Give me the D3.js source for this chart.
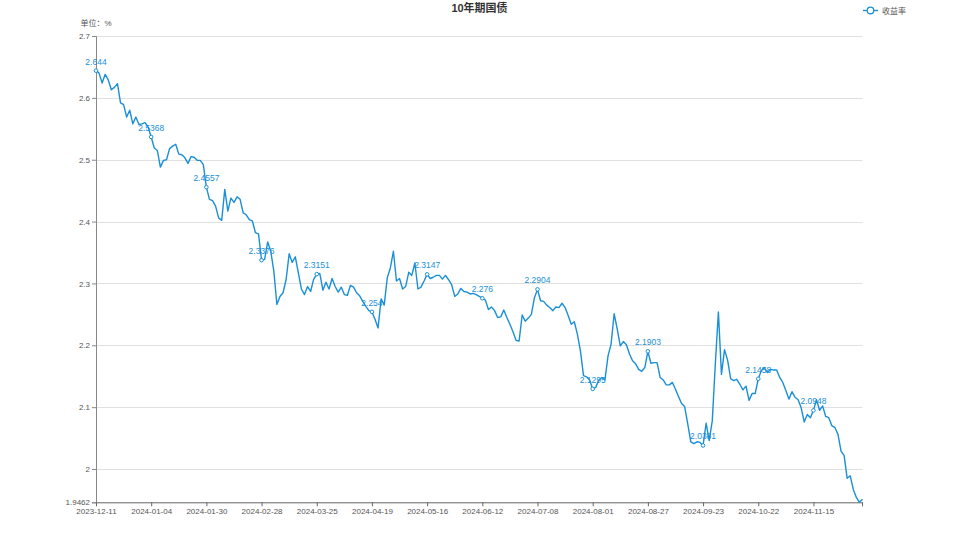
<!DOCTYPE html>
<html><head><meta charset="utf-8">
<script src="https://cdn.jsdelivr.net/npm/d3@7"></script>
<style>
html,body{margin:0;padding:0;background:#fff;}
svg{display:block;font-family:"Liberation Sans","Noto Sans CJK SC",sans-serif;}
</style></head>
<body><svg id="c" width="959" height="539"></svg>
<script>
const title = "10年期国债";
const unitLabel = "单位：%";
const seriesName = "收益率";
const dates = [
"2023-12-11","2023-12-12","2023-12-13","2023-12-14","2023-12-15","2023-12-18","2023-12-19","2023-12-20","2023-12-21","2023-12-22",
"2023-12-25","2023-12-26","2023-12-27","2023-12-28","2023-12-29",
"2024-01-01","2024-01-02","2024-01-03","2024-01-04","2024-01-05","2024-01-08","2024-01-09","2024-01-10","2024-01-11","2024-01-12",
"2024-01-15","2024-01-16","2024-01-17","2024-01-18","2024-01-19","2024-01-22","2024-01-23","2024-01-24","2024-01-25","2024-01-26",
"2024-01-29","2024-01-30","2024-01-31",
"2024-02-01","2024-02-02","2024-02-04","2024-02-05","2024-02-06","2024-02-07","2024-02-08","2024-02-09","2024-02-18","2024-02-19",
"2024-02-20","2024-02-21","2024-02-22","2024-02-23","2024-02-26","2024-02-27","2024-02-28","2024-02-29",
"2024-03-01","2024-03-04","2024-03-05","2024-03-06","2024-03-07","2024-03-08","2024-03-11","2024-03-12","2024-03-13","2024-03-14",
"2024-03-15","2024-03-18","2024-03-19","2024-03-20","2024-03-21","2024-03-22","2024-03-25","2024-03-26","2024-03-27","2024-03-28","2024-03-29",
"2024-04-01","2024-04-02","2024-04-03","2024-04-07","2024-04-08","2024-04-09","2024-04-10","2024-04-11","2024-04-12","2024-04-15",
"2024-04-16","2024-04-17","2024-04-18","2024-04-19","2024-04-22","2024-04-23","2024-04-24","2024-04-25","2024-04-26","2024-04-28",
"2024-04-29","2024-04-30",
"2024-05-06","2024-05-07","2024-05-08","2024-05-09","2024-05-10","2024-05-11","2024-05-13","2024-05-14","2024-05-15","2024-05-16",
"2024-05-17","2024-05-20","2024-05-21","2024-05-22","2024-05-23","2024-05-24","2024-05-27","2024-05-28","2024-05-29","2024-05-30","2024-05-31",
"2024-06-03","2024-06-04","2024-06-05","2024-06-06","2024-06-07","2024-06-11","2024-06-12","2024-06-13","2024-06-14","2024-06-17",
"2024-06-18","2024-06-19","2024-06-20","2024-06-21","2024-06-24","2024-06-25","2024-06-26","2024-06-27","2024-06-28",
"2024-07-01","2024-07-02","2024-07-03","2024-07-04","2024-07-05","2024-07-08","2024-07-09","2024-07-10","2024-07-11","2024-07-12",
"2024-07-15","2024-07-16","2024-07-17","2024-07-18","2024-07-19","2024-07-22","2024-07-23","2024-07-24","2024-07-25","2024-07-26",
"2024-07-29","2024-07-30","2024-07-31",
"2024-08-01","2024-08-02","2024-08-05","2024-08-06","2024-08-07","2024-08-08","2024-08-09","2024-08-12","2024-08-13","2024-08-14",
"2024-08-15","2024-08-16","2024-08-19","2024-08-20","2024-08-21","2024-08-22","2024-08-23","2024-08-26","2024-08-27","2024-08-28",
"2024-08-29","2024-08-30",
"2024-09-02","2024-09-03","2024-09-04","2024-09-05","2024-09-06","2024-09-09","2024-09-10","2024-09-11","2024-09-12","2024-09-13",
"2024-09-14","2024-09-18","2024-09-19","2024-09-20","2024-09-23","2024-09-24","2024-09-25","2024-09-26","2024-09-27","2024-09-29","2024-09-30",
"2024-10-08","2024-10-09","2024-10-10","2024-10-11","2024-10-12","2024-10-14","2024-10-15","2024-10-16","2024-10-17","2024-10-18",
"2024-10-21","2024-10-22","2024-10-23","2024-10-24","2024-10-25","2024-10-28","2024-10-29","2024-10-30","2024-10-31",
"2024-11-01","2024-11-04","2024-11-05","2024-11-06","2024-11-07","2024-11-08","2024-11-11","2024-11-12","2024-11-13","2024-11-14",
"2024-11-15","2024-11-18","2024-11-19","2024-11-20","2024-11-21","2024-11-22","2024-11-25","2024-11-26","2024-11-27","2024-11-28","2024-11-29",
"2024-12-02","2024-12-03","2024-12-04","2024-12-05","2024-12-06","2024-12-09"
];
const yields = [
2.644,2.640,2.624,2.638,2.629,2.613,2.617,2.623,2.592,2.589,
2.569,2.580,2.558,2.569,2.557,2.558,2.560,2.553,2.5368,2.519,
2.515,2.488,2.499,2.500,2.518,2.522,2.525,2.509,2.508,2.503,
2.494,2.505,2.504,2.499,2.499,2.492,2.4557,2.436,2.434,2.425,
2.406,2.402,2.452,2.417,2.438,2.431,2.440,2.436,2.414,2.411,
2.403,2.401,2.382,2.380,2.3376,2.339,2.367,2.352,2.320,2.266,
2.279,2.285,2.306,2.348,2.334,2.343,2.317,2.291,2.282,2.295,
2.287,2.307,2.3151,2.316,2.289,2.302,2.291,2.308,2.295,2.286,
2.294,2.282,2.281,2.297,2.294,2.285,2.280,2.271,2.263,2.256,
2.254,2.242,2.228,2.275,2.265,2.309,2.325,2.352,2.304,2.308,
2.291,2.295,2.318,2.313,2.333,2.291,2.294,2.304,2.3147,2.308,
2.310,2.313,2.313,2.307,2.313,2.306,2.298,2.279,2.283,2.292,
2.287,2.286,2.283,2.284,2.282,2.279,2.276,2.273,2.258,2.262,
2.256,2.245,2.246,2.257,2.245,2.234,2.222,2.208,2.207,2.249,
2.239,2.244,2.250,2.277,2.2904,2.272,2.271,2.265,2.261,2.256,
2.262,2.261,2.268,2.261,2.248,2.234,2.238,2.218,2.191,2.151,
2.149,2.144,2.1295,2.132,2.144,2.148,2.144,2.183,2.202,2.251,
2.226,2.199,2.206,2.201,2.186,2.175,2.170,2.161,2.158,2.164,
2.1903,2.171,2.172,2.172,2.148,2.144,2.136,2.136,2.140,2.129,
2.117,2.106,2.101,2.073,2.044,2.041,2.044,2.043,2.0381,2.074,
2.046,2.078,2.170,2.254,2.153,2.193,2.176,2.146,2.143,2.145,
2.137,2.128,2.134,2.111,2.122,2.122,2.1458,2.159,2.164,2.156,
2.161,2.160,2.160,2.148,2.140,2.127,2.113,2.125,2.116,2.112,
2.099,2.076,2.088,2.083,2.0948,2.112,2.095,2.102,2.085,2.083,
2.070,2.067,2.056,2.029,2.022,1.985,1.989,1.967,1.954,1.9462,
1.951
];
const yTicks = [1.9462, 2.0, 2.1, 2.2, 2.3, 2.4, 2.5, 2.6, 2.7];
const yMin = 1.9462, yMax = 2.7;
const labelEvery = 18;

const COLOR = "#1a8fd8";
const svg = d3.select("#c");
const L = 96, R = 862.5, T = 36, B = 502.3;

const x = d3.scalePoint().domain(dates).range([L, R]);
const y = d3.scaleLinear().domain([yMin, yMax]).range([B, T]);

// grid
svg.append("g").selectAll("line").data(yTicks.filter(t => t !== yMin)).join("line")
  .attr("x1", L).attr("x2", R).attr("y1", d => Math.round(y(d)) + 0.5).attr("y2", d => Math.round(y(d)) + 0.5)
  .attr("stroke", "#e0e0e0").attr("stroke-width", 1);

// y axis
const yAxis = d3.axisLeft(y).tickValues(yTicks).tickSize(4).tickPadding(2)
  .tickFormat(d => d === yMin ? "1.9462" : d3.format("~g")(+d.toFixed(4)));
const gy = svg.append("g").attr("transform", `translate(${L},0)`).call(yAxis);
gy.select(".domain").attr("stroke", "#888");
gy.selectAll(".tick line").attr("stroke", "#888");
gy.selectAll(".tick text").attr("fill", "#555").attr("font-size", 8);

// x axis
const tickDates = dates.filter((d, i) => i % labelEvery === 0);
const xAxis = d3.axisBottom(x).tickValues(tickDates).tickSize(4).tickPadding(2).tickSizeOuter(0);
const gx = svg.append("g").attr("transform", `translate(0,${B})`).call(xAxis);
gx.select(".domain").attr("stroke", "#666");
gx.selectAll(".tick line").attr("stroke", "#666");
gx.selectAll(".tick text").attr("fill", "#555").attr("font-size", 8);
gx.append("line").attr("x1", R).attr("x2", R).attr("y1", 0).attr("y2", 4).attr("stroke", "#666");

// line
const data = dates.map((d, i) => ({d, v: yields[i], i}));
svg.append("path").datum(data)
  .attr("fill", "none").attr("stroke", COLOR).attr("stroke-width", 1.4).attr("stroke-linejoin", "round")
  .attr("d", d3.line().x(p => x(p.d)).y(p => y(p.v)));

// labelled points
const lab = data.filter(p => p.i % labelEvery === 0);
svg.append("g").selectAll("circle").data(lab).join("circle")
  .attr("cx", p => x(p.d)).attr("cy", p => y(p.v)).attr("r", 1.8)
  .attr("fill", "#fff").attr("stroke", COLOR).attr("stroke-width", 1);
svg.append("g").selectAll("text").data(lab).join("text")
  .attr("x", p => x(p.d)).attr("y", p => y(p.v) - 6)
  .attr("text-anchor", "middle").attr("font-size", 8.5).attr("fill", COLOR)
  .text(p => String(p.v));

// title, unit
svg.append("text").attr("x", 479.5).attr("y", 12).attr("text-anchor", "middle")
  .attr("font-size", 11).attr("font-weight", "bold").attr("fill", "#333").text(title);
svg.append("text").attr("x", 96).attr("y", 25.5).attr("text-anchor", "middle")
  .attr("font-size", 8).attr("fill", "#555").text(unitLabel);

// legend
const lg = svg.append("g").attr("transform", "translate(863,10.5)");
lg.append("line").attr("x1", 0).attr("x2", 15).attr("y1", 0).attr("y2", 0).attr("stroke", COLOR).attr("stroke-width", 1.4);
lg.append("circle").attr("cx", 7.5).attr("cy", 0).attr("r", 3.3).attr("fill", "#fff").attr("stroke", COLOR).attr("stroke-width", 1.2);
lg.append("text").attr("x", 19).attr("y", 3).attr("font-size", 8).attr("fill", "#555").text(seriesName);
</script></body></html>
